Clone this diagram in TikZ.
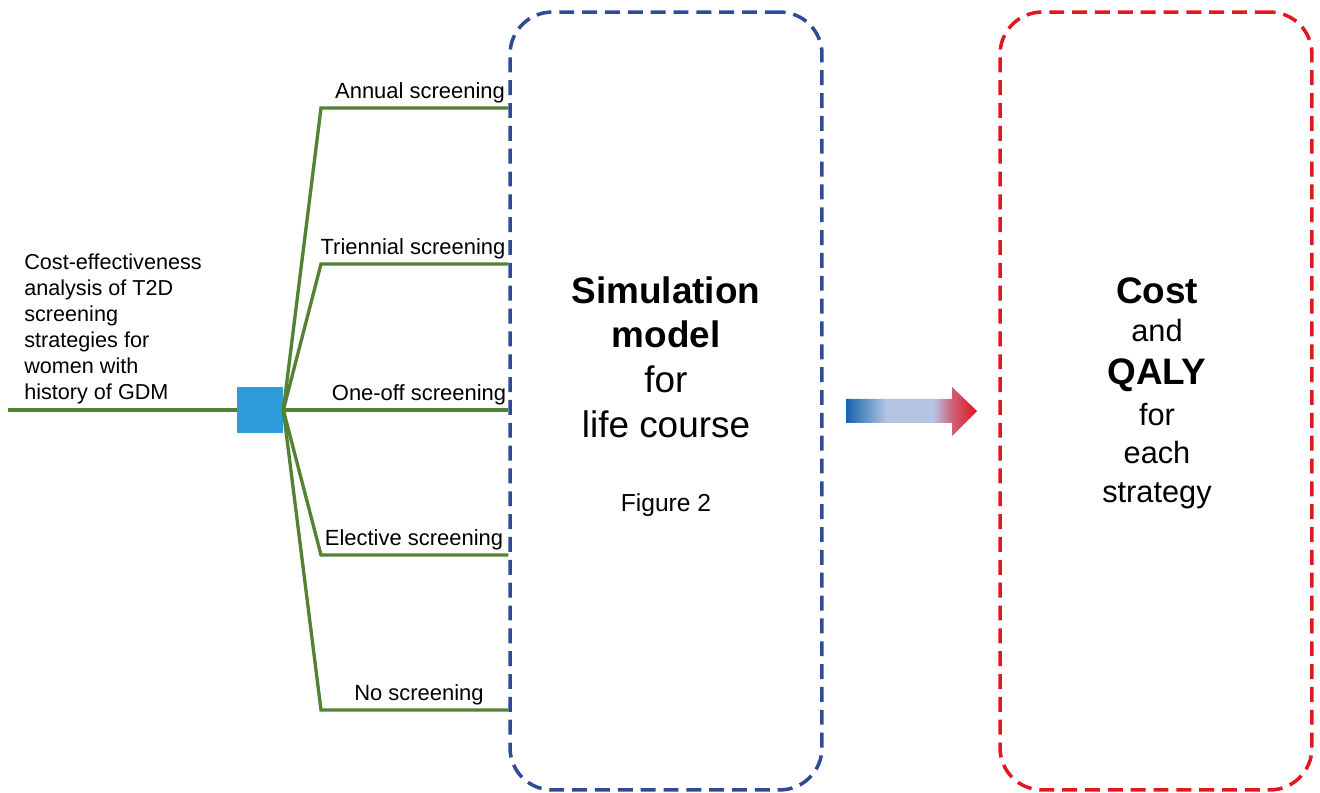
\documentclass[tikz,border=0pt]{standalone}
\usepackage{fontspec}
\setmainfont{Liberation Sans}
\usetikzlibrary{positioning}
\definecolor{branchgreen}{HTML}{548235}
\definecolor{hubblue}{HTML}{2E9CDA}
\definecolor{simblue}{HTML}{2F4B94}
\definecolor{resred}{HTML}{E01820}
\definecolor{arrowblue}{HTML}{1565B0}
\definecolor{arrowlight}{HTML}{B4C4E2}
\definecolor{arrowpink}{HTML}{CF5F78}
\definecolor{arrowred}{HTML}{E0141E}
\pgfdeclarehorizontalshading{bluetored}{100bp}{color(0bp)=(arrowblue); color(25bp)=(arrowblue); color(40.5bp)=(arrowlight); color(58.5bp)=(arrowlight); color(65.5bp)=(arrowpink); color(75bp)=(arrowred); color(100bp)=(arrowred)}
\tikzstyle{branch} = [branchgreen, line width=1.9pt]
\tikzstyle{lbl} = [anchor=base, inner sep=0pt, font=\fontsize{12.5}{15}\selectfont]
\tikzstyle{panel} = [rectangle, rounded corners=24pt, line width=2pt, dash pattern=on 8.5pt off 4.5pt, minimum width=6.24cm, minimum height=15.56cm, inner sep=0pt]

\begin{document}
\begin{tikzpicture}[x=0.02cm,y=-0.02cm]
\useasboundingbox (0,0) rectangle (1320,793);

\node[panel, draw=simblue] (sim) at (666,401) {};
\node[panel, draw=resred] (res) at (1156,401) {};

\coordinate (root) at (8,410);
\node[rectangle, fill=hubblue, minimum size=0.92cm, inner sep=0pt] (hub) at (260,410) {};
\draw[branch] (root) -- (hub.west);

\node[anchor=north west, inner sep=0pt, align=left, font=\fontsize{12.3}{14.8}\selectfont] (question) at (24,253)
  {Cost-effectiveness\\analysis of T2D\\screening\\strategies for\\women with\\history of GDM};

\foreach \y/\xc/\txt in {108/420/Annual screening,264/413/Triennial screening,555/414/Elective screening,710/419/No screening}{
  \coordinate (elbow\y) at (321,\y);
  \draw[branch] (hub.east) -- (elbow\y) -- (elbow\y -| sim.west);
  \node[lbl] (lab\y) at (\xc,\y-9) {\txt};
}
\draw[branch] (hub.east) -- (hub.east -| sim.west);
\node[lbl] (lab410) at (419,401) {One-off screening};

\node[anchor=north, inner sep=0pt, align=center, font=\fontsize{21}{25.5}\selectfont] (simtext) at (666,276)
  {\textbf{Simulation}\\\textbf{model}\\for\\life course};
\node[inner sep=0pt, font=\fontsize{14}{17}\selectfont] (fig) at (666,505) {Figure 2};

\node[anchor=north, inner sep=0pt, align=center, font=\fontsize{17.5}{22}\selectfont] (restext) at (1157,277)
  {{\fontsize{21}{22}\selectfont\textbf{Cost}}\\and\\[2.5pt]{\fontsize{21}{22}\selectfont\textbf{QALY}}\\[1pt]for\\each\\strategy};

% block arrow between the two panels
\shade[shading=bluetored] (846,399) -- (952,399) -- (952,387) -- (977,411) -- (952,436) -- (952,423) -- (846,423) -- cycle;
\end{tikzpicture}
\end{document}
